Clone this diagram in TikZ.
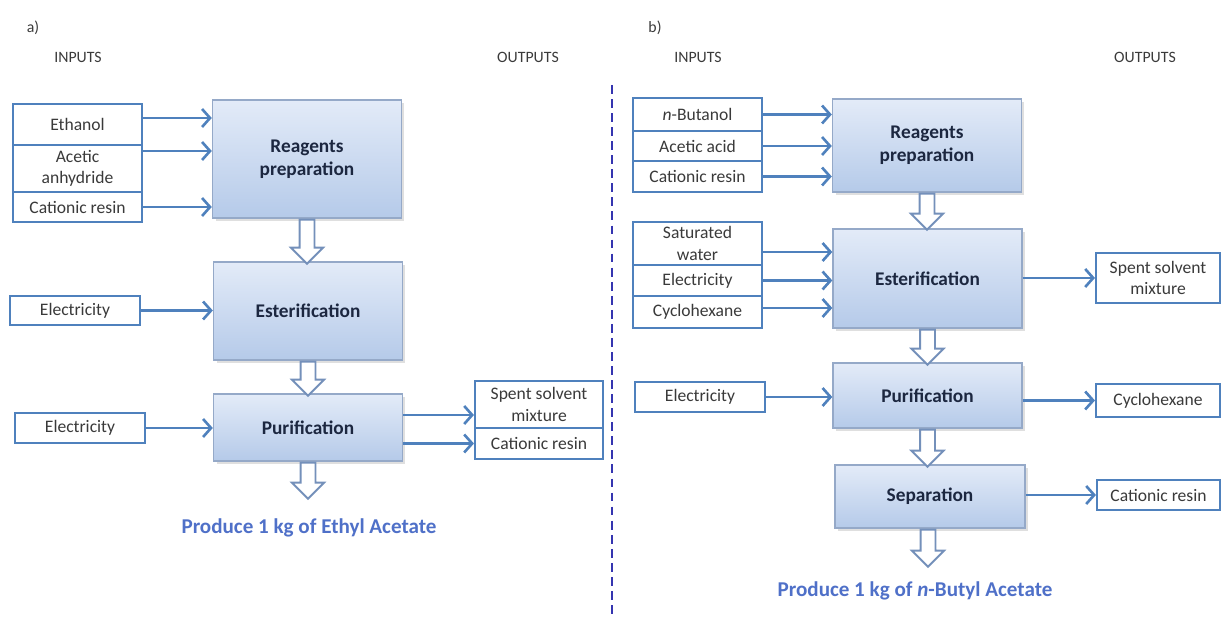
\documentclass[tikz,border=0pt]{standalone}
\usepackage{fontspec}
\setmainfont{Carlito}
\usetikzlibrary{arrows.meta,shapes.arrows,shadows}
\definecolor{boxblue}{HTML}{4F81BD}
\definecolor{procline}{HTML}{95A9C8}
\definecolor{proctop}{HTML}{E3EBF8}
\definecolor{procbot}{HTML}{B5CAE9}
\definecolor{hollowline}{HTML}{7490BA}
\definecolor{titleblue}{HTML}{4F70C8}
\definecolor{dashblue}{HTML}{3535B0}
\definecolor{labelgray}{HTML}{3A3A3A}
\definecolor{procink}{HTML}{1C2740}
\begin{document}
\begin{tikzpicture}[
    x=0.02cm, y=-0.02cm,
    inbox/.style={draw=boxblue, line width=1.2pt, fill=white, align=center,
                  font=\fontsize{10}{12}\selectfont, text=labelgray,
                  minimum width=2.58cm, inner sep=1pt},
    proc/.style={draw=procline, line width=0.8pt, top color=proctop, bottom color=procbot,
                 drop shadow={opacity=0.25, shadow xshift=0.6mm, shadow yshift=-0.6mm},
                 align=center, font=\fontsize{11}{13}\selectfont\bfseries, text=procink,
                 minimum width=3.78cm},
    flow/.style={draw=boxblue, line width=1.5pt, -{Straight Barb[length=1.6mm,width=3.6mm]}},
    hollow/.style={single arrow, draw=hollowline, line width=1.1pt, fill=white,
                   shape border rotate=270, inner sep=0.13cm,
                   single arrow head extend=0.17cm, anchor=tail},
    head/.style={font=\fontsize{9}{11}\selectfont, text=labelgray},
    result/.style={font=\fontsize{12}{14}\selectfont\bfseries, text=titleblue}]
  \useasboundingbox (0,0) rectangle (1221,617);
  % a) ethyl acetate
  \node[head] (laba) at (33,28) {a)};
  \node[head] (inA) at (78,57) {INPUTS};
  \node[head] (outA) at (528,57) {OUTPUTS};
  \node[inbox, minimum height=0.82cm] (ethA) at (77.5,124.5) {Ethanol};
  \node[inbox, minimum height=0.94cm] (anhA) at (77.5,168.5) {Acetic\\anhydride};
  \node[inbox, minimum height=0.60cm] (resA) at (77.5,207) {Cationic resin};
  \node[proc, minimum height=2.36cm] (reagA) at (307,159) {Reagents\\preparation};
  \node[inbox, minimum width=2.6cm, minimum height=0.58cm] (elecA1) at (75,310.5) {Electricity};
  \node[proc, minimum height=1.96cm] (esterA) at (308,311) {Esterification};
  \node[inbox, minimum width=2.6cm, minimum height=0.6cm] (elecA2) at (80,428) {Electricity};
  \node[proc, minimum height=1.34cm] (purA) at (308,427.5) {Purification};
  \node[inbox, minimum width=2.56cm, minimum height=0.94cm] (spentA) at (539,404.5) {Spent solvent\\mixture};
  \node[inbox, minimum width=2.56cm, minimum height=0.62cm] (resA2) at (539,443.5) {Cationic resin};
  \node[result] (prodA) at (309,528) {Produce 1 kg of Ethyl Acetate};
  \node[hollow, minimum height=0.88cm] (ha1) at (reagA.south) {};
  \node[hollow, minimum height=0.68cm] (ha2) at (esterA.south) {};
  \node[hollow, minimum height=0.72cm] (ha3) at (purA.south) {};
  \draw[flow] ([yshift=0.13cm]ethA.east) coordinate (e1) -- (e1 -| reagA.west);
  \draw[flow] ([yshift=0.35cm]anhA.east) coordinate (e2) -- (e2 -| reagA.west);
  \draw[flow] (resA.east) -- (resA.east -| reagA.west);
  \draw[flow] (elecA1.east) -- (elecA1.east -| esterA.west);
  \draw[flow] (elecA2.east) -- (elecA2.east -| purA.west);
  \path ([yshift=-0.21cm]spentA.west) coordinate (s1);
  \draw[flow] (s1 -| purA.east) -- (s1);
  \draw[flow] (resA2.west -| purA.east) -- (resA2.west);
  % divider
  \coordinate (divtop) at (612,85);
  \coordinate (divbot) at (612,617);
  \draw[dashblue, line width=1.3pt, dash pattern=on 5pt off 3pt] (divtop) -- (divbot);
  % b) n-butyl acetate
  \node[head] (labb) at (655,28) {b)};
  \node[head] (inB) at (698,57) {INPUTS};
  \node[head] (outB) at (1145,57) {OUTPUTS};
  \node[inbox, minimum height=0.66cm] (butB) at (697.5,114.5) {\textit{n}-Butanol};
  \node[inbox, minimum height=0.60cm] (acidB) at (697.5,146) {Acetic acid};
  \node[inbox, minimum height=0.62cm] (resB) at (697.5,176.5) {Cationic resin};
  \node[proc, minimum height=1.86cm] (reagB) at (927,145.5) {Reagents\\preparation};
  \node[inbox, minimum height=0.86cm] (watB) at (697.5,243.5) {Saturated\\water};
  \node[inbox, minimum height=0.62cm] (elecB1) at (697.5,280.5) {Electricity};
  \node[inbox, minimum height=0.64cm] (cycB) at (697.5,312) {Cyclohexane};
  \node[proc, minimum height=1.98cm] (esterB) at (927.5,278.5) {Esterification};
  \node[inbox, minimum width=2.48cm, minimum height=1.0cm] (spentB) at (1158,278) {Spent solvent\\mixture};
  \node[inbox, minimum width=2.6cm, minimum height=0.6cm] (elecB2) at (700,397) {Electricity};
  \node[proc, minimum height=1.3cm] (purB) at (927.5,395.5) {Purification};
  \node[inbox, minimum width=2.48cm, minimum height=0.66cm] (cycB2) at (1158,400.5) {Cyclohexane};
  \node[proc, minimum width=3.8cm, minimum height=1.26cm] (sepB) at (930,496.5) {Separation};
  \node[inbox, minimum width=2.46cm, minimum height=0.6cm] (resB2) at (1158.5,495) {Cationic resin};
  \node[result] (prodB) at (915,591) {Produce 1 kg of \textit{n}-Butyl Acetate};
  \node[hollow, minimum height=0.72cm] (hb1) at (reagB.south) {};
  \node[hollow, minimum height=0.70cm] (hb2) at (esterB.south) {};
  \node[hollow, minimum height=0.74cm] (hb3) at (purB.south) {};
  \node[hollow, minimum height=0.74cm] (hb4) at ([xshift=-0.04cm]sepB.south) {};
  \draw[flow] (butB.east) -- (butB.east -| reagB.west);
  \draw[flow] (acidB.east) -- (acidB.east -| reagB.west);
  \draw[flow] (resB.east) -- (resB.east -| reagB.west);
  \draw[flow] ([yshift=-0.17cm]watB.east) coordinate (w1) -- (w1 -| esterB.west);
  \draw[flow] (elecB1.east) -- (elecB1.east -| esterB.west);
  \draw[flow] ([yshift=0.08cm]cycB.east) coordinate (c1) -- (c1 -| esterB.west);
  \draw[flow] (elecB2.east) -- (elecB2.east -| purB.west);
  \draw[flow] (spentB.west -| esterB.east) -- (spentB.west);
  \draw[flow] (cycB2.west -| purB.east) -- (cycB2.west);
  \draw[flow] (resB2.west -| sepB.east) -- (resB2.west);
\end{tikzpicture}
\end{document}
